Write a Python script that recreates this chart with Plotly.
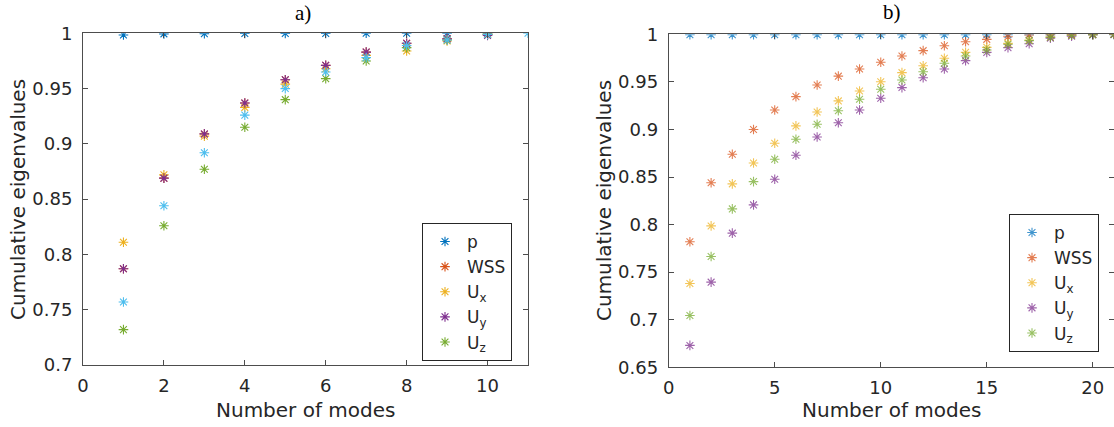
import plotly.graph_objects as go

# ---------------- data ----------------
names = ["p", "WSS", "U<sub>x</sub>", "U<sub>y</sub>", "U<sub>z</sub>"]
colors = ["#0072BD", "#D95319", "#EDB120", "#7E2F8E", "#77AC30", "#4DBEEE"]

modes_a = [1, 2, 3, 4, 5, 6, 7, 8, 9, 10]
modes_a_extra = [1, 2, 3, 4, 5, 6, 7, 8, 9, 10, 11]
p_a   = [0.9985, 0.9995, 0.9997, 0.9998, 0.9999, 0.9999, 1.0, 1.0, 1.0, 0.9995]
wss_a = [0.787, 0.869, 0.909, 0.937, 0.958, 0.971, 0.983, 0.991, 0.995, 0.999]
ux_a  = [0.811, 0.872, 0.907, 0.933, 0.954, 0.968, 0.980, 0.984, 0.993, 0.999]
uy_a  = [0.787, 0.869, 0.909, 0.937, 0.958, 0.971, 0.983, 0.991, 0.995, 0.998]
uz_a  = [0.732, 0.826, 0.877, 0.915, 0.940, 0.959, 0.975, 0.987, 0.994, 0.999]
extra_a = [0.757, 0.844, 0.892, 0.926, 0.950, 0.965, 0.978, 0.989, 0.994, 0.999, 1.0]

modes_b = list(range(1, 22))
p_b   = [0.9995] * 21
wss_b = [0.782, 0.844, 0.874, 0.900, 0.9205, 0.9345, 0.9467, 0.956, 0.9636, 0.9706,
         0.9772, 0.9828, 0.988, 0.9922, 0.9947, 0.9975, 0.9992, 0.9996, 0.9998, 1.0, 1.0]
ux_b  = [0.738, 0.7986, 0.8428, 0.8648, 0.8855, 0.9037, 0.9184, 0.930, 0.9404, 0.9502,
         0.9597, 0.967, 0.9748, 0.981, 0.9863, 0.9905, 0.994, 0.997, 0.999, 0.9997, 1.0]
uy_b  = [0.673, 0.7395, 0.791, 0.8207, 0.8477, 0.8729, 0.8921, 0.9071, 0.9205, 0.9328,
         0.944, 0.9544, 0.9635, 0.9723, 0.981, 0.986, 0.990, 0.996, 0.998, 0.9995, 1.0]
uz_b  = [0.7044, 0.7664, 0.8165, 0.8452, 0.8687, 0.8897, 0.9055, 0.9197, 0.9317, 0.9422,
         0.952, 0.9607, 0.9695, 0.9772, 0.9835, 0.9895, 0.9933, 0.997, 0.999, 0.9997, 1.0]

xticks_a = [0, 2, 4, 6, 8, 10]
yticks_a = [0.7, 0.75, 0.8, 0.85, 0.9, 0.95, 1]
xticks_b = [0, 5, 10, 15, 20]
yticks_b = [0.65, 0.7, 0.75, 0.8, 0.85, 0.9, 0.95, 1]

# ---------------- figure ----------------
W, H = 1114, 427
TXT = "#262626"
AX = "#4d4d4d"
FONT = "DejaVu Sans"

fig = go.Figure()

series_a = [p_a, wss_a, ux_a, uy_a, uz_a]
for i, ys in enumerate(series_a):
    fig.add_trace(go.Scatter(
        x=modes_a, y=ys, mode="markers", name=names[i],
        marker=dict(symbol="asterisk-open", size=8, color=colors[i],
                    line=dict(color=colors[i], width=1.1)),
        xaxis="x", yaxis="y", legend="legend", legendgroup="a%d" % i))
fig.add_trace(go.Scatter(
    x=modes_a_extra, y=extra_a, mode="markers", showlegend=False,
    marker=dict(symbol="asterisk-open", size=8, color=colors[5],
                line=dict(color=colors[5], width=1.1)),
    xaxis="x", yaxis="y"))

series_b = [p_b, wss_b, ux_b, uy_b, uz_b]
for i, ys in enumerate(series_b):
    fig.add_trace(go.Scatter(
        x=modes_b, y=ys, mode="markers", name=names[i],
        marker=dict(symbol="asterisk-open", size=8, color=colors[i], opacity=0.75,
                    line=dict(color=colors[i], width=1.1)),
        xaxis="x2", yaxis="y2", legend="legend2", legendgroup="b%d" % i))

dom_a_x = [83 / W, 528 / W]
dom_a_y = [1 - 365 / H, 1 - 33.3 / H]
dom_b_x = [668.7 / W, 1.0]
dom_b_y = [1 - 367.3 / H, 1 - 34.3 / H]

common = dict(showgrid=False, zeroline=False, showline=True, linecolor=AX, linewidth=1,
              mirror="ticks", ticks="inside", ticklen=5, tickcolor=AX, automargin=False,
              tickfont=dict(family=FONT, size=18, color=TXT))

legend_common = dict(xanchor="left", yanchor="top", bordercolor=TXT, borderwidth=1,
                     bgcolor="white", font=dict(family=FONT, size=17, color=TXT),
                     tracegroupgap=0, itemwidth=34)

fig.update_layout(
    width=W, height=H,
    margin=dict(l=0, r=0, t=0, b=0, pad=0, autoexpand=False),
    paper_bgcolor="white", plot_bgcolor="white",
    font=dict(family=FONT, color=TXT),
    xaxis=dict(domain=dom_a_x, range=[0, 11], tickvals=xticks_a, anchor="y",
               ticklabelstandoff=4, **common),
    yaxis=dict(domain=dom_a_y, range=[0.7, 1], tickvals=yticks_a, anchor="x",
               ticklabelstandoff=6, **common),
    xaxis2=dict(domain=dom_b_x, range=[0, 21], tickvals=xticks_b, anchor="y2",
                ticklabelstandoff=4, **common),
    yaxis2=dict(domain=dom_b_y, range=[0.65, 1], tickvals=yticks_b, anchor="x2",
                ticklabelstandoff=6, **common),
    legend=dict(x=422 / W, y=1 - 223 / H, **legend_common),
    legend2=dict(x=1009 / W, y=1 - 214 / H, **legend_common),
    showlegend=True,
)

def label(text, x, y, size, family=FONT, color=TXT, angle=0):
    return dict(text=text, x=x / W, y=1 - y / H, xref="paper", yref="paper",
                xanchor="center", yanchor="middle", textangle=angle, showarrow=False,
                font=dict(family=family, size=size, color=color))

ann = [
    label("Cumulative eigenvalues", 18, 200, 20, angle=-90),
    label("Cumulative eigenvalues", 604, 201, 20, angle=-90),
    label("Number of modes", 305.5, 410, 20),
    label("Number of modes", 891, 410, 20),
    label("a)", 303, 13, 21, family="Liberation Serif", color="black"),
    label("b)", 892, 12, 21, family="Liberation Serif", color="black"),
]
fig.update_layout(annotations=ann)

fig.write_html("out.html", config={"displayModeBar": False},
               post_script="document.body.style.margin='0';")
